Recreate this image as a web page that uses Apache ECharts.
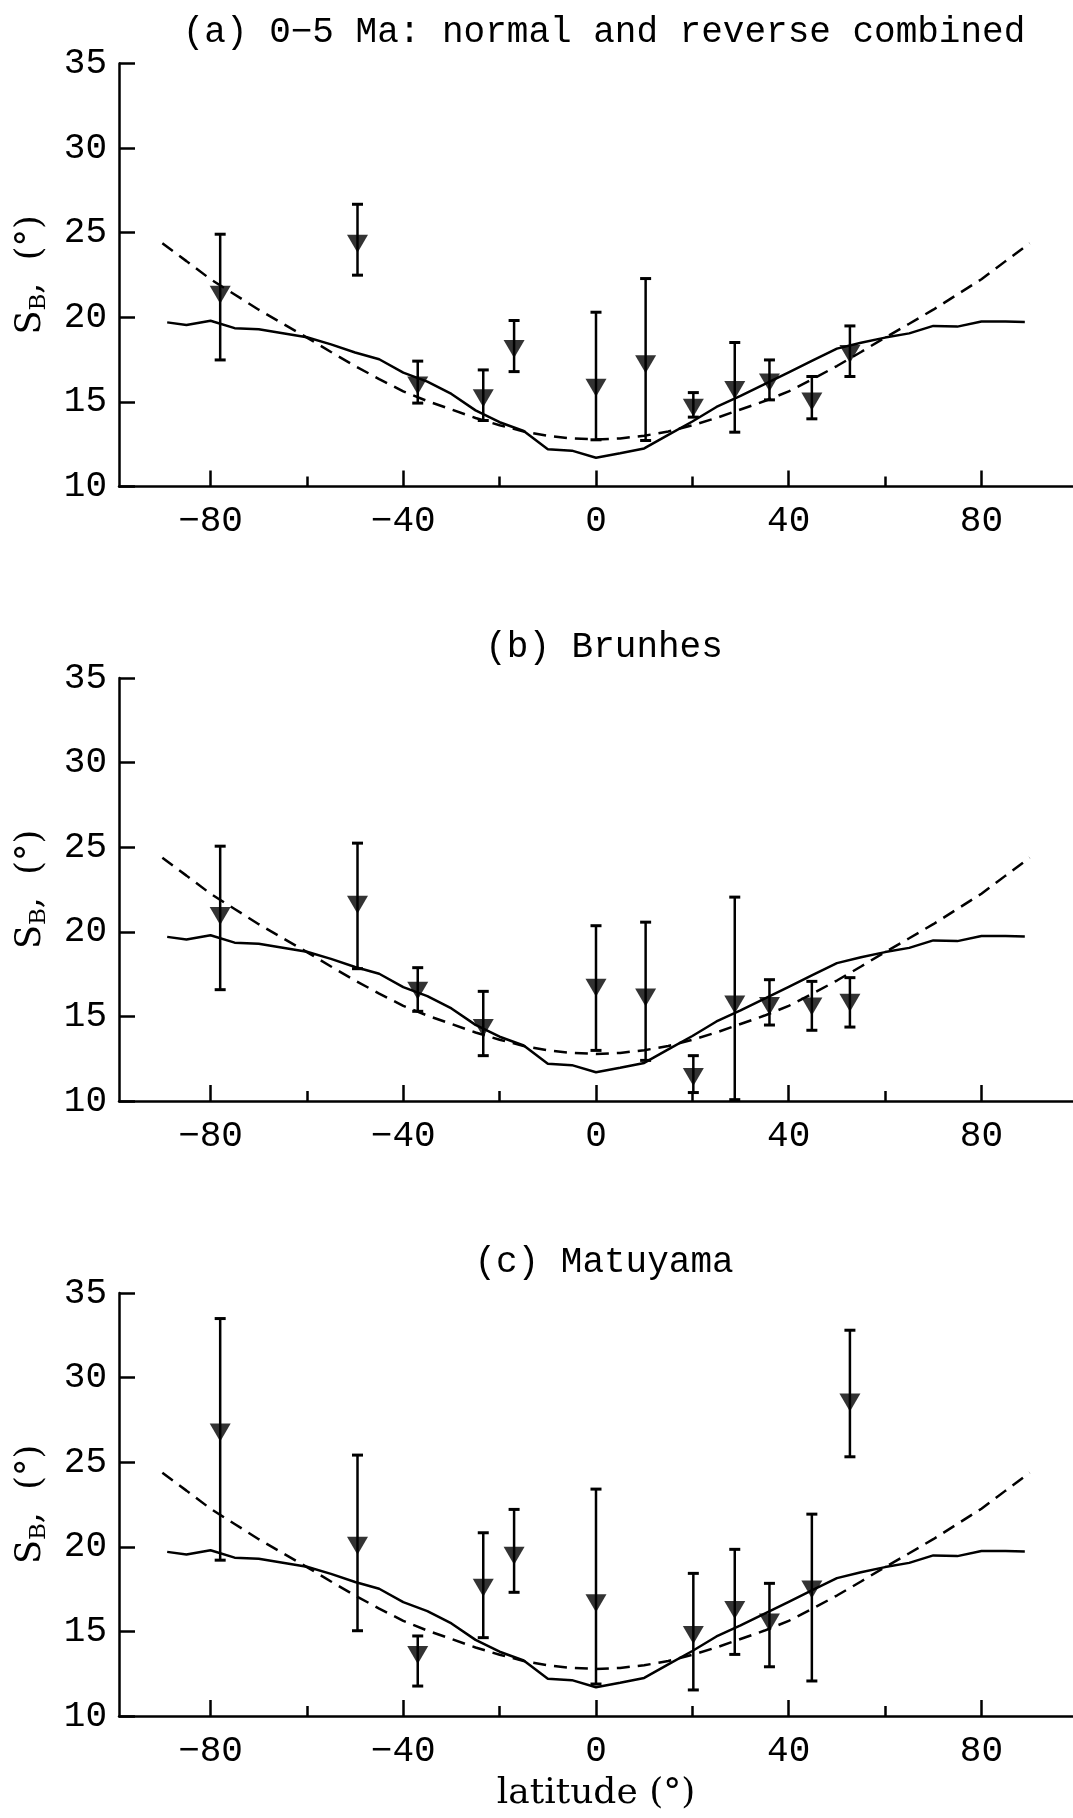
<!DOCTYPE html>
<html>
<head>
<meta charset="utf-8">
<script src="https://cdn.jsdelivr.net/npm/echarts@6/dist/echarts.min.js"></script>
<style>
  html, body { margin: 0; padding: 0; background: #fff; }
  #chart { width: 1073px; height: 1818px; }
</style>
</head>
<body>
<div id="chart"></div>
<script>
// Site latitudes (degrees) shared by all three panels
const siteLat = [-78, -49.5, -37, -23.4, -17, 0, 10.3, 20.2, 28.8, 36, 44.8, 52.7];

// (a) 0-5 Ma, normal and reverse combined: S_B with lower / upper bounds
const sbA = [21.34, 24.35, 15.97, 15.22, 18.12, 15.83, 17.22, 14.65, 15.71, 16.15, 15.02, 17.83];
const loA = [17.48, 22.49, 14.93, 13.90, 16.79, 12.76, 12.72, 14.10, 13.21, 15.12, 14.00, 16.50];
const hiA = [24.91, 26.68, 17.41, 16.89, 19.81, 20.30, 22.29, 15.55, 18.51, 17.48, 16.50, 19.49];

// (b) Brunhes
const sbB = [20.93, 21.60, 16.51, 14.31, null, 16.70, 16.11, 11.42, 15.71, 15.61, 15.59, 15.81];
const loB = [16.58, 17.82, 15.30, 12.68, null, 12.99, 12.40, 10.50, 10.08, 14.49, 14.18, 14.37];
const hiB = [25.06, 25.24, 17.88, 16.48, null, 20.36, 20.57, 12.68, 22.05, 17.17, 17.07, 17.29];

// (c) Matuyama
const sbC = [26.76, 20.06, 13.60, 17.58, 19.47, 16.66, null, 14.78, 16.27, 15.52, 17.48, 28.53];
const loC = [19.21, 15.04, 11.77, 14.63, 17.31, 11.89, null, 11.54, 13.64, 12.91, 12.07, 25.32];
const hiC = [33.49, 25.42, 14.73, 20.83, 22.21, 23.41, null, 18.43, 19.85, 17.84, 21.93, 32.80];

// Model curve (solid)
const solidLat = [-89, -85, -80, -75, -70, -65, -60, -55, -50, -45, -40, -35, -30, -25, -20, -15, -10, -5, 0,
                  5, 10, 15, 20, 25, 30, 35, 40, 45, 50, 55, 60, 65, 70, 75, 80, 85, 89];
const solidSB = [19.70, 19.55, 19.80, 19.36, 19.30, 19.06, 18.82, 18.40, 17.92, 17.52, 16.73, 16.20, 15.47, 14.50, 13.80, 13.28, 12.20, 12.12, 11.70,
                 11.97, 12.25, 13.05, 13.84, 14.70, 15.35, 16.05, 16.75, 17.45, 18.15, 18.50, 18.80, 19.05, 19.49, 19.45, 19.75, 19.75, 19.72];

// Model curve (dashed)
const dashLat = [-90, -85, -80, -75, -70, -65, -60, -55, -50, -45, -40, -35, -30, -25, -20, -15, -10, -5, 0,
                 5, 10, 15, 20, 25, 30, 35, 40, 45, 50, 55, 60, 65, 70, 75, 80, 85, 90];
const dashSB = [24.38, 23.32, 22.25, 21.35, 20.45, 19.62, 18.80, 17.95, 17.12, 16.35, 15.62, 15.05, 14.55, 14.05, 13.62, 13.25, 13.00, 12.84, 12.78,
                12.84, 13.00, 13.25, 13.62, 14.05, 14.55, 15.05, 15.62, 16.35, 17.12, 17.95, 18.80, 19.62, 20.45, 21.35, 22.25, 23.32, 24.38];

// Axis ticks and labels
const xMajorTicks = [-80, -40, 0, 40, 80];
const xMinorTicks = [-60, -20, 20, 60];
const panelTitles = ['(a) 0\u22125 Ma: normal and reverse combined', '(b) Brunhes', '(c) Matuyama'];
const yName = '{s|S}{b|B}{s|,  (\u00b0)}';
const xName = 'latitude (\u00b0)';

const panels = [
  { sb: sbA, lo: loA, hi: hiA },
  { sb: sbB, lo: loB, hi: hiB },
  { sb: sbC, lo: loC, hi: hiC }
];

const FONT = 'Liberation Mono';
const NAME_FONT = 'DejaVu Serif';
const INK = '#000';
const gridTops = [63.5, 678, 1293];
const gridH = 423;

const option = {
  backgroundColor: '#fff',
  animation: false,
  title: [],
  grid: [],
  xAxis: [],
  yAxis: [],
  series: []
};

panels.forEach((p, k) => {
  option.title.push({
    text: panelTitles[k],
    left: 599,
    textAlign: 'center',
    top: gridTops[k] - 54,
    textStyle: { fontFamily: FONT, fontSize: 36, fontWeight: 'normal', color: INK }
  });
  option.grid.push({ left: 119, right: -6, top: gridTops[k], height: gridH });

  option.xAxis.push({
    gridIndex: k, type: 'value', min: -99, max: 99,
    axisLine: { onZero: false, lineStyle: { color: INK, width: 2.5 } },
    axisTick: { inside: true, length: 16, customValues: xMajorTicks, lineStyle: { color: INK, width: 2.5 } },
    axisLabel: {
      customValues: xMajorTicks, margin: 17,
      fontFamily: FONT, fontSize: 36, color: INK,
      formatter: v => (v < 0 ? '\u2212' + Math.abs(v) : String(v))
    },
    splitLine: { show: false },
    name: k === 2 ? xName : '',
    nameLocation: 'middle', nameGap: 60,
    nameTextStyle: { fontFamily: NAME_FONT, fontSize: 36, color: INK }
  });
  option.xAxis.push({
    gridIndex: k, type: 'value', min: -99, max: 99, position: 'bottom',
    axisLine: { show: false },
    axisTick: { inside: true, length: 10, customValues: xMinorTicks, lineStyle: { color: INK, width: 2.5 } },
    axisLabel: { show: false },
    splitLine: { show: false }
  });

  option.yAxis.push({
    gridIndex: k, type: 'value', min: 10, max: 35, interval: 5,
    axisLine: { show: true, onZero: false, lineStyle: { color: INK, width: 2.5 } },
    axisTick: { show: true, inside: true, length: 16, lineStyle: { color: INK, width: 2.5 } },
    axisLabel: { margin: 12, fontFamily: FONT, fontSize: 36, color: INK },
    splitLine: { show: false },
    name: yName, nameLocation: 'middle', nameRotate: 90, nameGap: 68,
    nameTextStyle: {
      color: INK,
      rich: {
        s: { fontFamily: NAME_FONT, fontSize: 35, color: INK, lineHeight: 40 },
        b: { fontFamily: NAME_FONT, fontSize: 23, color: INK, lineHeight: 24, verticalAlign: 'bottom' }
      }
    }
  });

  const xi = k * 2, yi = k;

  option.series.push({
    type: 'line', xAxisIndex: xi, yAxisIndex: yi, silent: true,
    data: solidLat.map((x, i) => [x, solidSB[i]]),
    symbol: 'none', lineStyle: { color: INK, width: 2.5 }, z: 2
  });
  option.series.push({
    type: 'line', xAxisIndex: xi, yAxisIndex: yi, silent: true,
    data: dashLat.map((x, i) => [x, dashSB[i]]),
    symbol: 'none', lineStyle: { color: INK, width: 2.5, type: [13, 8] }, z: 2
  });

  const bars = [];
  const pts = [];
  siteLat.forEach((x, i) => {
    if (p.sb[i] == null) return;
    bars.push([x, p.lo[i], p.hi[i]]);
    pts.push([x, p.sb[i]]);
  });

  // Error bars with end caps
  option.series.push({
    type: 'custom', xAxisIndex: xi, yAxisIndex: yi, silent: true, z: 3,
    encode: { x: 0, y: [1, 2] },
    data: bars,
    renderItem: (params, api) => {
      const x = api.value(0);
      const a = api.coord([x, api.value(1)]);
      const b = api.coord([x, api.value(2)]);
      const hw = 5.5;
      const st = { stroke: INK, lineWidth: 2.5 };
      return {
        type: 'group',
        children: [
          { type: 'line', shape: { x1: a[0], y1: a[1], x2: b[0], y2: b[1] }, style: st },
          { type: 'line', shape: { x1: a[0] - hw, y1: a[1], x2: a[0] + hw, y2: a[1] }, style: { stroke: INK, lineWidth: 3 } },
          { type: 'line', shape: { x1: b[0] - hw, y1: b[1], x2: b[0] + hw, y2: b[1] }, style: { stroke: INK, lineWidth: 3 } }
        ]
      };
    }
  });

  // Site estimates: inverted triangles
  option.series.push({
    type: 'scatter', xAxisIndex: xi, yAxisIndex: yi, silent: true, z: 4,
    data: pts,
    symbol: 'triangle', symbolRotate: 180, symbolSize: [21, 18],
    itemStyle: { color: INK }
  });
});

const chart = echarts.init(document.getElementById('chart'), null, { renderer: 'canvas' });
chart.setOption(option);
</script>
</body>
</html>
